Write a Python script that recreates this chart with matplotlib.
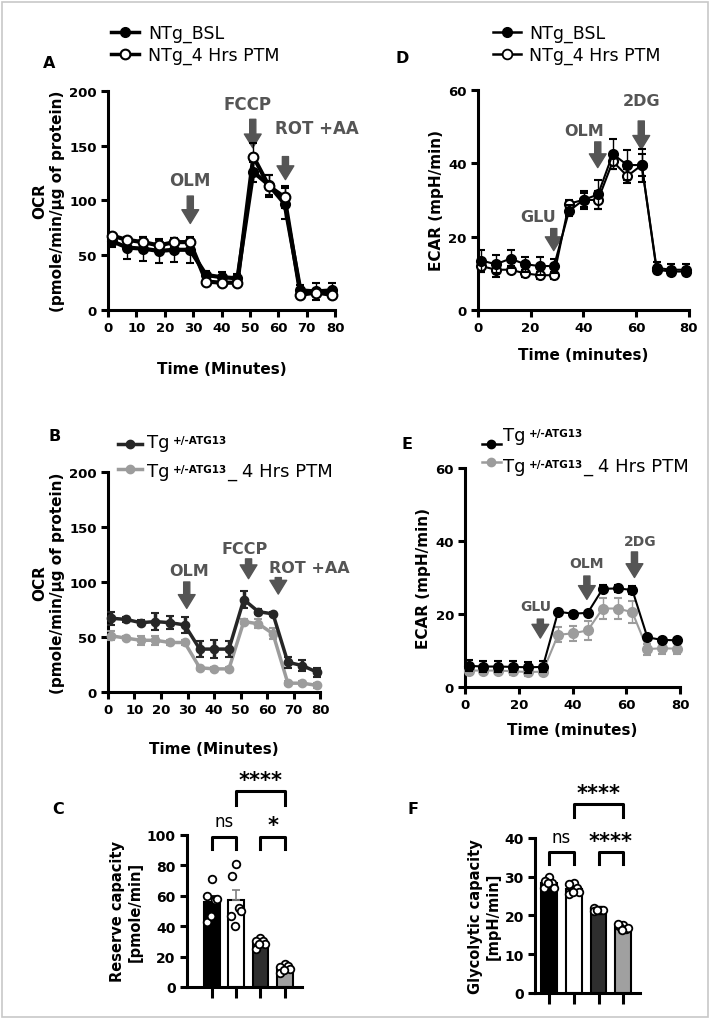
import numpy as np
import matplotlib
matplotlib.use("Agg")
import matplotlib.pyplot as plt
from matplotlib.lines import Line2D
from matplotlib.patches import Rectangle

plt.rcParams['font.family'] = ['DejaVu Sans']
plt.rcParams['font.weight'] = 'bold'
plt.rcParams['axes.labelweight'] = 'bold'

# measurement times (min)
time_min = [1.3, 6.8, 12.4, 17.9, 23.4, 28.9, 34.6, 40.1, 45.6, 51.2, 56.7, 62.2, 67.8, 73.3, 78.8]

# A: OCR NTg
ocr_ntg_bsl = [63, 57, 56, 54, 55, 55, 32, 30, 29, 126, 114, 97, 18, 17, 18]
ocr_ntg_bsl_err = [5, 10, 11, 11, 11, 12, 4, 5, 4, 9, 9, 14, 5, 8, 7]
ocr_ntg_ptm = [68, 64, 62, 59, 62, 62, 26, 25, 25, 140, 113, 103, 14, 16, 14]
ocr_ntg_ptm_err = [2, 3, 5, 5, 4, 3, 2, 2, 2, 12, 10, 10, 3, 3, 3]

# D: ECAR NTg
ecar_ntg_bsl = [13.5, 12.5, 14, 12.5, 12, 12, 27, 30, 31.5, 42.5, 39.5, 39.5, 11.5, 11, 11]
ecar_ntg_bsl_err = [3, 2.5, 2.5, 2, 2.5, 2, 1.5, 2.5, 4, 4, 4, 4.5, 1.5, 1.5, 1.5]
ecar_ntg_ptm = [12, 11, 11, 10, 9.5, 9.5, 29, 30, 30, 40.5, 36.5, 39.5, 11, 10.5, 10.5]
ecar_ntg_ptm_err = [1.5, 2, 1, 1, 1, 1, 1, 2, 2.5, 2, 2, 3, 1, 1, 1]

# B: OCR Tg
ocr_tg_bsl = [67, 66, 63, 64, 63, 61, 39, 39, 39, 84, 73, 71, 27, 24, 18]
ocr_tg_bsl_err = [6, 2, 2, 8, 6, 7, 7, 8, 7, 8, 2, 2, 5, 5, 4]
ocr_tg_ptm = [51, 49, 47, 47, 45, 45, 22, 21, 21, 64, 62, 53, 8, 8, 6]
ocr_tg_ptm_err = [4, 2, 4, 4, 2, 2, 2, 2, 2, 2, 4, 5, 2, 2, 2]

# E: ECAR Tg
ecar_tg_bsl = [5.8, 5.6, 5.6, 5.5, 5.4, 5.5, 20.6, 20.1, 20.3, 26.9, 27, 26.6, 13.6, 12.9, 12.8]
ecar_tg_bsl_err = [1.5, 1.5, 1.5, 1.5, 1.5, 1.5, 0.5, 0.5, 0.5, 1, 1, 1, 0.5, 0.5, 0.5]
ecar_tg_ptm = [4.5, 4.5, 4.5, 4.3, 4.1, 4.2, 14.3, 14.7, 15.5, 21.5, 21.5, 20.5, 10.4, 10.6, 10.5]
ecar_tg_ptm_err = [1, 1, 1, 1, 1, 1, 2, 2, 2.5, 3, 3, 3, 1.5, 1.5, 1.5]

# C: reserve capacity, F: glycolytic capacity (individual replicates)
reserve_pts = [[71, 60, 57, 58, 43, 47],
               [81, 73, 52, 50, 47, 40],
               [32, 30, 30, 28, 25, 28],
               [15, 13, 14, 12, 9, 11]]
glyco_pts = [[30, 29, 28.5, 27, 27, 28.5],
             [28.5, 28, 27, 26, 25.5, 26],
             [21.5, 21.8, 21.3, 21.5, 21.2, 21.4],
             [17.5, 17.2, 16.5, 16.8, 17.8, 16.3]]

GREY_TXT = '#555555'
TG_DARK = '#262626'
TG_GREY = '#9c9c9c'
bar_colors = ['black', 'white', '#2e2e2e', '#a0a0a0']
dot_offsets = [0.0, -0.18, 0.12, 0.2, -0.2, -0.05]


def style(ax, xlen=5, fs=9.5):
    for s in ['top', 'right']:
        ax.spines[s].set_visible(False)
    for s in ['left', 'bottom']:
        ax.spines[s].set_linewidth(2.2)
    ax.tick_params(width=2.2, length=5, labelsize=fs, pad=3)
    ax.tick_params(axis='x', length=xlen)
    for lab in ax.get_xticklabels() + ax.get_yticklabels():
        lab.set_fontweight('bold')


def inject(ax, label, tx, ty, ax_x, y0, y1, fs=12):
    ax.text(tx, ty, label, ha='center', va='bottom', fontsize=fs, fontweight='bold',
            color=GREY_TXT, clip_on=False)
    ax.annotate('', xy=(ax_x, y1), xytext=(ax_x, y0),
                arrowprops=dict(arrowstyle='simple,head_length=0.9,head_width=1.1,tail_width=0.4',
                                color=GREY_TXT, mutation_scale=11, shrinkA=0, shrinkB=0))


def trace(ax, y, err, mfc, color, lw, ms, elw, cap, z):
    ax.errorbar(time_min, y, yerr=err, fmt='-o', color=color, mfc=mfc, mec=color,
                lw=lw, ms=ms, mew=1.5, ecolor=color, elinewidth=elw, capsize=cap,
                capthick=elw, clip_on=False, zorder=z)


def tg_legend(ax, x0, x1, xt, rows, lw, fs=13):
    # rows: (handle y, text y, colour, suffix) in figure fraction
    for yh, yt, color, suffix in rows:
        fig.add_artist(Line2D([x0, (x0 + x1) / 2, x1], [yh] * 3, transform=fig.transFigure,
                              color=color, lw=lw, marker='o', ms=6, markevery=[1]))
        t1 = ax.annotate('Tg', xy=(xt, yt), xycoords='figure fraction', ha='left', va='center',
                         fontsize=fs, fontweight='normal', annotation_clip=False)
        t2 = ax.annotate('+/-ATG13', xy=(1, 0.6), xycoords=t1, xytext=(2.5, 0),
                         textcoords='offset points', ha='left', va='center', fontsize=7.5,
                         fontweight='bold', annotation_clip=False)
        if suffix:
            ax.annotate(suffix, xy=(1, 0), xycoords=(t2, t1), ha='left', va='bottom',
                        fontsize=fs, fontweight='normal', annotation_clip=False)


fig = plt.figure(figsize=(7.1, 10.2), dpi=100)

# ---------- A ----------
axA = fig.add_axes([0.152, 0.695, 0.320, 0.215])
trace(axA, ocr_ntg_bsl, ocr_ntg_bsl_err, 'black', 'black', 3, 6.5, 1, 3, 3)
trace(axA, ocr_ntg_ptm, ocr_ntg_ptm_err, 'white', 'black', 3, 7, 1, 3, 4)
axA.set_xlim(0, 80)
axA.set_ylim(0, 200)
axA.set_xticks(range(0, 81, 10))
axA.set_yticks(range(0, 201, 50))
style(axA)
axA.set_xlabel('Time (Minutes)', fontsize=11, labelpad=19)
axA.set_ylabel('OCR\n(pmole/min/\u00b5g of protein)', fontsize=11, labelpad=3)
inject(axA, 'OLM', 29, 110, 29, 104, 79)
inject(axA, 'FCCP', 49, 180, 51, 174, 148)
inject(axA, 'ROT +AA', 73.5, 158, 62.5, 140, 119)
hA = [Line2D([], [], color='black', lw=2.5, marker='o', ms=7, mfc='black'),
      Line2D([], [], color='black', lw=2.5, marker='o', ms=7, mfc='white', mew=1.5)]
fig.legend(hA, ['NTg_BSL', 'NTg_4 Hrs PTM'], loc='upper left', bbox_to_anchor=(0.135, 0.991),
           frameon=False, prop=dict(size=12.5, weight='normal'), handlelength=1.6,
           handletextpad=0.5, labelspacing=0.22)
fig.text(0.069, 0.938, 'A', fontsize=11.5, fontweight='bold', ha='center', va='center')

# ---------- D ----------
axD = fig.add_axes([0.673, 0.695, 0.297, 0.216])
trace(axD, ecar_ntg_ptm, ecar_ntg_ptm_err, 'white', 'black', 1.5, 6.5, 1, 3, 3)
trace(axD, ecar_ntg_bsl, ecar_ntg_bsl_err, 'black', 'black', 1.5, 6.5, 1, 3, 4)
axD.set_xlim(0, 80)
axD.set_ylim(0, 60)
axD.set_xticks(range(0, 81, 20))
axD.set_yticks(range(0, 61, 20))
style(axD)
axD.set_xlabel('Time (minutes)', fontsize=11, labelpad=9)
axD.set_ylabel('ECAR (mpH/min)', fontsize=11, labelpad=3)
inject(axD, 'GLU', 23, 23.5, 28.8, 22.2, 16.2, fs=11.5)
inject(axD, 'OLM', 40.2, 47, 45.5, 45.8, 38.8, fs=11.5)
inject(axD, '2DG', 62, 55, 62, 51.5, 43.8, fs=11.5)
hD = [Line2D([], [], color='black', lw=1.8, marker='o', ms=7, mfc='black'),
      Line2D([], [], color='black', lw=1.8, marker='o', ms=7, mfc='white', mew=1.3)]
fig.legend(hD, ['NTg_BSL', 'NTg_4 Hrs PTM'], loc='upper left', bbox_to_anchor=(0.672, 0.991),
           frameon=False, prop=dict(size=12.5, weight='normal'), handlelength=1.6,
           handletextpad=0.5, labelspacing=0.22)
fig.text(0.566, 0.943, 'D', fontsize=11.5, fontweight='bold', ha='center', va='center')

# ---------- B ----------
axB = fig.add_axes([0.152, 0.3206, 0.299, 0.2157])
trace(axB, ocr_tg_ptm, ocr_tg_ptm_err, TG_GREY, TG_GREY, 2.5, 5.5, 2.5, 3, 3)
trace(axB, ocr_tg_bsl, ocr_tg_bsl_err, TG_DARK, TG_DARK, 2.5, 5.5, 2.5, 3, 4)
axB.set_xlim(0, 80)
axB.set_ylim(0, 200)
axB.set_xticks(range(0, 81, 10))
axB.set_yticks(range(0, 201, 50))
style(axB)
axB.set_xlabel('Time (Minutes)', fontsize=11, labelpad=18)
axB.set_ylabel('OCR\n(pmole/min/\u00b5g of protein)', fontsize=11, labelpad=3)
inject(axB, 'OLM', 30.5, 104, 29.7, 100, 76, fs=11.5)
inject(axB, 'FCCP', 51.5, 124, 53, 121, 103, fs=11.5)
inject(axB, 'ROT +AA', 76, 106, 64.2, 104, 89, fs=11.5)
tg_legend(axB, 0.166, 0.200, 0.207,
          [(0.5637, 0.5657, TG_DARK, ''), (0.539, 0.5373, TG_GREY, '_ 4 Hrs PTM')], lw=2.5)
fig.text(0.077, 0.572, 'B', fontsize=11.5, fontweight='bold', ha='center', va='center')

# ---------- E ----------
axE = fig.add_axes([0.655, 0.3255, 0.303, 0.2147])
trace(axE, ecar_tg_ptm, ecar_tg_ptm_err, TG_GREY, TG_GREY, 1.5, 6.5, 1, 3, 3)
trace(axE, ecar_tg_bsl, ecar_tg_bsl_err, 'black', 'black', 1.5, 6.5, 1, 3, 4)
axE.set_xlim(0, 80)
axE.set_ylim(0, 60)
axE.set_xticks(range(0, 81, 20))
axE.set_yticks(range(0, 61, 20))
style(axE)
axE.set_xlabel('Time (minutes)', fontsize=11, labelpad=8)
axE.set_ylabel('ECAR (mpH/min)', fontsize=11, labelpad=3)
inject(axE, 'GLU', 26.4, 20.2, 28, 18.6, 13.4, fs=10)
inject(axE, 'OLM', 45, 32, 45.3, 30.4, 24, fs=10)
inject(axE, '2DG', 65, 38, 63, 37, 30, fs=10)
tg_legend(axE, 0.679, 0.705, 0.708,
          [(0.5637, 0.5725, 'black', ''), (0.546, 0.542, TG_GREY, '_ 4 Hrs PTM')], lw=1.8)
fig.text(0.573, 0.564, 'E', fontsize=11.5, fontweight='bold', ha='center', va='center')


# ---------- C & F ----------
def bar_panel(ax, pts, ymax, step, ylabel, brackets):
    means = [np.mean(p) for p in pts]
    sems = [np.std(p, ddof=1) / np.sqrt(len(p)) for p in pts]
    for i, (m, s) in enumerate(zip(means, sems)):
        ax.bar(i, m, width=0.64, color=bar_colors[i], edgecolor='black', lw=1.5, zorder=2)
        ax.errorbar(i, m, yerr=[[0], [s]], color='#7f7f7f' if i in (1, 3) else 'black',
                    capsize=3, elinewidth=1.2, capthick=1.2, zorder=3)
        ax.scatter(np.array(dot_offsets) + i, pts[i], s=30, facecolor='white',
                   edgecolor='black', lw=1.3, zorder=4, clip_on=False)
    ax.set_ylim(0, ymax)
    ax.set_yticks(np.arange(0, ymax + 1, step))
    ax.set_xticks(range(4))
    ax.set_xticklabels([])
    style(ax, xlen=8, fs=10)
    ax.set_ylabel(ylabel, fontsize=10.5, labelpad=3)
    for x0, x1, ytop, ybot, lab in brackets:
        ax.plot([x0, x0, x1, x1], [ybot, ytop, ytop, ybot], color='black', lw=2.2, clip_on=False)
        if lab == 'ns':
            ax.text((x0 + x1) / 2, ytop + (ytop - ybot) * 0.5, lab, ha='center', va='bottom',
                    fontsize=12, fontweight='normal', clip_on=False)
        else:
            ax.text((x0 + x1) / 2, ytop + (ytop - ybot) * 0.1, lab, ha='center', va='bottom',
                    fontsize=15, fontweight='bold', clip_on=False)


axC = fig.add_axes([0.263, 0.0314, 0.162, 0.149])
axC.set_xlim(-1.03, 3.7)
bar_panel(axC, reserve_pts, 100, 20, 'Reserve capacity\n[pmole/min]',
          [(0, 1, 99, 91, 'ns'), (2, 3, 99, 91, '*'), (1, 3, 129, 120, '****')])
fig.text(0.082, 0.206, 'C', fontsize=11.5, fontweight='bold', ha='center', va='center')

axF = fig.add_axes([0.7535, 0.0255, 0.148, 0.152])
axF.set_xlim(-0.57, 3.68)
bar_panel(axF, glyco_pts, 40, 10, 'Glycolytic capacity\n[mpH/min]',
          [(0, 1, 36.4, 33.3, 'ns'), (2, 3, 36.4, 33.3, '****'), (1, 3, 48.8, 45.4, '****')])
fig.text(0.582, 0.206, 'F', fontsize=11.5, fontweight='bold', ha='center', va='center')

fig.patches.append(Rectangle((0.003, 0.002), 0.994, 0.995, transform=fig.transFigure,
                             fill=False, ec='#c8c8c8', lw=1.2))

fig.savefig('out.png', dpi=100)
